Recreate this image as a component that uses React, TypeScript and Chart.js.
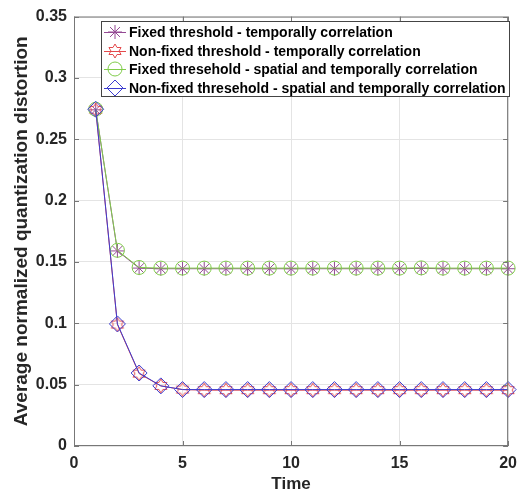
import React, { useEffect, useRef } from "react";
import { Chart, registerables } from "chart.js";

Chart.register(...registerables);

const time = [1, 2, 3, 4, 5, 6, 7, 8, 9, 10, 11, 12, 13, 14, 15, 16, 17, 18, 19, 20];
const fixedTemporal = [0.274, 0.159, 0.145, 0.1445, 0.1445, 0.1445, 0.1445, 0.1445, 0.1445, 0.1445, 0.1445, 0.1445, 0.1445, 0.1445, 0.1445, 0.1448, 0.1445, 0.1445, 0.1445, 0.1445];
const nonFixedTemporal = [0.274, 0.099, 0.059, 0.049, 0.046, 0.0455, 0.0455, 0.0455, 0.0455, 0.0455, 0.0455, 0.0455, 0.0455, 0.0455, 0.0455, 0.0455, 0.0455, 0.0455, 0.0455, 0.0455];
const fixedSpatial = [0.2745, 0.1595, 0.1455, 0.145, 0.145, 0.145, 0.145, 0.145, 0.145, 0.145, 0.145, 0.145, 0.145, 0.145, 0.145, 0.1452, 0.145, 0.145, 0.145, 0.145];
const nonFixedSpatial = [0.2745, 0.0995, 0.0595, 0.049, 0.046, 0.046, 0.046, 0.046, 0.046, 0.046, 0.046, 0.046, 0.046, 0.046, 0.046, 0.046, 0.046, 0.046, 0.046, 0.046];
const seriesLabels = [
  "Fixed threshold - temporally correlation",
  "Non-fixed threshold - temporally correlation",
  "Fixed thresehold - spatial and temporally correlation",
  "Non-fixed thresehold - spatial and temporally correlation",
];
const xTicks = [0, 5, 10, 15, 20];
const yTicks = [0, 0.05, 0.1, 0.15, 0.2, 0.25, 0.3, 0.35];

const PURPLE = "#944a94";
const RED = "#e44a4c";
const GREEN = "#80cc4a";
const BLUE = "#3c3cd0";

function makeHexagram(color: string, r: number) {
  const c = document.createElement("canvas");
  const s = Math.ceil(r * 2 + 4);
  c.width = s;
  c.height = s;
  const ctx = c.getContext("2d")!;
  ctx.strokeStyle = color;
  ctx.lineWidth = 1;
  const cx = s / 2, cy = s / 2;
  ctx.beginPath();
  for (let k = 0; k < 12; k++) {
    const ang = -Math.PI / 2 + (k * Math.PI) / 6;
    const rr = k % 2 === 0 ? r : r * 0.577;
    const x = cx + rr * Math.cos(ang);
    const y = cy + rr * Math.sin(ang);
    if (k === 0) ctx.moveTo(x, y);
    else ctx.lineTo(x, y);
  }
  ctx.closePath();
  ctx.stroke();
  return c;
}

export default function App() {
  const ref = useRef<HTMLCanvasElement>(null);
  useEffect(() => {
    const hex = makeHexagram(RED, 7);
    const font = "'Liberation Sans', Arial, sans-serif";
    const toPts = (arr: number[]) => arr.map((v, i) => ({ x: time[i], y: v }));

    const boxPlugin = {
      id: "matlabBox",
      afterDraw(chart: any) {
        const { ctx, chartArea: a, scales } = chart;
        ctx.save();
        ctx.strokeStyle = "#777777";
        ctx.lineWidth = 1;
        ctx.strokeRect(a.left + 0.5, a.top + 0.5, a.right - a.left - 1, a.bottom - a.top - 1);
        ctx.beginPath();
        xTicks.forEach((t) => {
          const x = Math.round(scales.x.getPixelForValue(t)) + 0.5;
          ctx.moveTo(x, a.bottom);
          ctx.lineTo(x, a.bottom - 5);
          ctx.moveTo(x, a.top);
          ctx.lineTo(x, a.top + 5);
        });
        yTicks.forEach((t) => {
          const y = Math.round(scales.y.getPixelForValue(t)) + 0.5;
          ctx.moveTo(a.left, y);
          ctx.lineTo(a.left + 5, y);
          ctx.moveTo(a.right, y);
          ctx.lineTo(a.right - 5, y);
        });
        ctx.stroke();

        // legend
        const lx = 101, ly = 21, lw = 408, lh = 75;
        ctx.fillStyle = "#ffffff";
        ctx.fillRect(lx, ly, lw, lh);
        ctx.strokeStyle = "#444444";
        ctx.strokeRect(lx + 0.5, ly + 0.5, lw, lh);
        const rows = [32, 51, 69, 88];
        const colors = [PURPLE, RED, GREEN, BLUE];
        ctx.font = `bold 14px ${font}`;
        ctx.textBaseline = "middle";
        ctx.textAlign = "left";
        rows.forEach((ry, i) => {
          ctx.strokeStyle = colors[i];
          ctx.lineWidth = 1;
          ctx.beginPath();
          ctx.moveTo(104, ry + 0.5);
          ctx.lineTo(126, ry + 0.5);
          ctx.stroke();
          const cx = 115;
          ctx.beginPath();
          if (i === 0) {
            const r = 7;
            for (let k = 0; k < 4; k++) {
              const ang = (k * Math.PI) / 4;
              ctx.moveTo(cx - r * Math.cos(ang), ry - r * Math.sin(ang));
              ctx.lineTo(cx + r * Math.cos(ang), ry + r * Math.sin(ang));
            }
            ctx.stroke();
          } else if (i === 1) {
            ctx.drawImage(hex, cx - hex.width / 2, ry - hex.height / 2);
          } else if (i === 2) {
            ctx.arc(cx, ry, 7, 0, Math.PI * 2);
            ctx.stroke();
          } else {
            ctx.moveTo(cx, ry - 8);
            ctx.lineTo(cx + 8, ry);
            ctx.lineTo(cx, ry + 8);
            ctx.lineTo(cx - 8, ry);
            ctx.closePath();
            ctx.stroke();
          }
          ctx.fillStyle = "#000000";
          ctx.fillText(seriesLabels[i], 129, ry + 1);
        });
        ctx.restore();
      },
    };

    const chart = new Chart(ref.current!, {
      type: "line",
      data: {
        datasets: [
          {
            label: seriesLabels[0],
            data: toPts(fixedTemporal),
            borderColor: PURPLE,
            backgroundColor: "transparent",
            borderWidth: 1,
            pointStyle: "star",
            pointRadius: 7,
            pointBorderColor: PURPLE,
            pointBorderWidth: 1,
            clip: false,
            order: 4,
          },
          {
            label: seriesLabels[1],
            data: toPts(nonFixedTemporal),
            borderColor: RED,
            backgroundColor: "transparent",
            borderWidth: 1,
            pointStyle: hex as any,
            pointRadius: 7,
            clip: false,
            order: 3,
          },
          {
            label: seriesLabels[2],
            data: toPts(fixedSpatial),
            borderColor: GREEN,
            backgroundColor: "transparent",
            borderWidth: 1,
            pointStyle: "circle",
            pointRadius: 7,
            pointBorderColor: GREEN,
            pointBackgroundColor: "transparent",
            pointBorderWidth: 1,
            clip: false,
            order: 2,
          },
          {
            label: seriesLabels[3],
            data: toPts(nonFixedSpatial),
            borderColor: BLUE,
            backgroundColor: "transparent",
            borderWidth: 1,
            pointStyle: "rectRot",
            pointRadius: 8,
            pointBorderColor: BLUE,
            pointBackgroundColor: "transparent",
            pointBorderWidth: 1,
            clip: false,
            order: 1,
          },
        ],
      },
      options: {
        animation: false,
        responsive: false,
        maintainAspectRatio: false,
        layout: { padding: { left: 0, right: 11, top: 15, bottom: 0 } },
        plugins: { legend: { display: false }, tooltip: { enabled: false } },
        scales: {
          x: {
            type: "linear",
            min: 0,
            max: 20,
            afterBuildTicks: (s: any) => {
              s.ticks = xTicks.map((v) => ({ value: v }));
            },
            afterFit: (s: any) => {
              s.height = 49;
            },
            grid: { color: "#e4e4e4", drawTicks: false, lineWidth: 1 },
            border: { display: false },
            ticks: {
              padding: 8,
              color: "#262626",
              font: { family: font, size: 16, weight: "bold" },
              callback: (v: any) => String(v),
            },
            title: {
              display: true,
              text: "Time",
              color: "#262626",
              padding: { top: 0, bottom: 0 },
              font: { family: font, size: 17, weight: "bold" },
            },
          },
          y: {
            type: "linear",
            min: 0,
            max: 0.35,
            afterBuildTicks: (s: any) => {
              s.ticks = yTicks.map((v) => ({ value: v }));
            },
            afterFit: (s: any) => {
              s.width = 74;
            },
            grid: { color: "#e4e4e4", drawTicks: false, lineWidth: 1 },
            border: { display: false },
            ticks: {
              padding: 7,
              color: "#262626",
              font: { family: font, size: 16, weight: "bold" },
              callback: (v: any) => String(Math.round(v * 100) / 100),
            },
            title: {
              display: true,
              text: "Average normalized quantization distortion",
              color: "#262626",
              padding: { top: 10, bottom: 0 },
              font: { family: font, size: 19, weight: "bold" },
            },
          },
        },
      },
      plugins: [boxPlugin],
    });
    return () => chart.destroy();
  }, []);

  return (
    <div style={{ position: "fixed", left: 0, top: 0, width: 525, height: 495, background: "#fff" }}>
      <canvas ref={ref} width={525} height={495} style={{ width: 525, height: 495 }} />
    </div>
  );
}
